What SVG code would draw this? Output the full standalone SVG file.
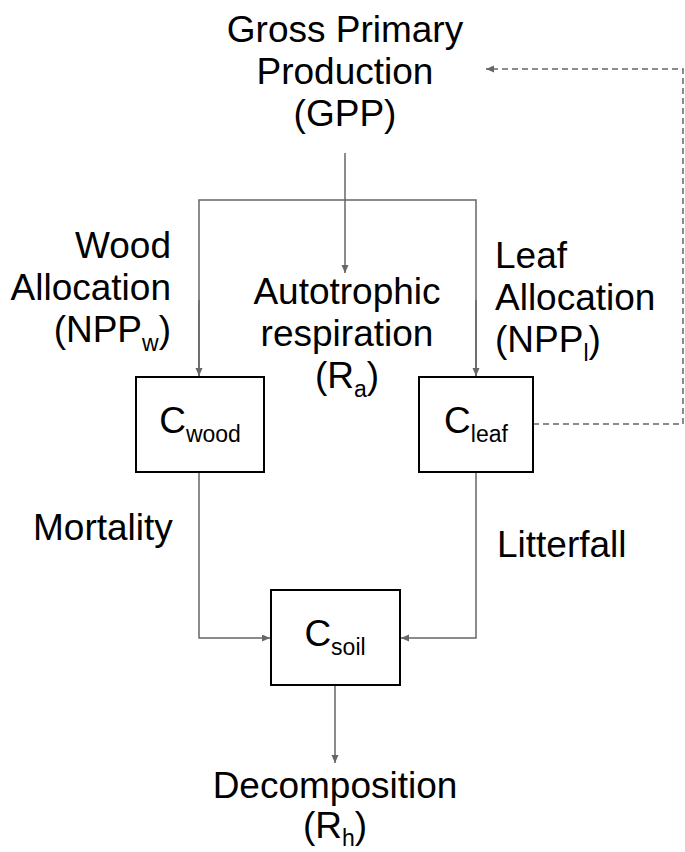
<svg xmlns="http://www.w3.org/2000/svg" width="685" height="852" viewBox="0 0 685 852">
<style>
text{font-family:"Liberation Sans",Arial,sans-serif;font-size:37px;fill:#000}
.sub{font-size:23px}
.box{fill:#fff;stroke:#000;stroke-width:2}
.c{fill:none;stroke:#666;stroke-width:1.5}
.d{fill:none;stroke:#666;stroke-width:1.5;stroke-dasharray:6 4}
</style>
<defs>
<marker id="ah" markerUnits="userSpaceOnUse" markerWidth="9" markerHeight="8" refX="8" refY="3.5" orient="auto">
<path d="M0,0 L8,3.5 L0,7 z" fill="#666"/>
</marker>
</defs>
<g id="connectors">
<path class="c" d="M345,153 V273" marker-end="url(#ah)"/>
<path class="c" d="M199,376 V200 H476 V376" />
<path class="c" d="M199,300 V376" marker-end="url(#ah)"/>
<path class="c" d="M476,300 V376" marker-end="url(#ah)"/>
<path class="c" d="M199,472 V638 H270" marker-end="url(#ah)"/>
<path class="c" d="M476,472 V638 H401" marker-end="url(#ah)"/>
<path class="c" d="M335,685 V763" marker-end="url(#ah)"/>
<path class="d" d="M533,424 H683 V69 H486" marker-end="url(#ah)"/>
</g>
<g id="gpp">
<text x="345" text-anchor="middle"><tspan x="345" y="42">Gross Primary</tspan><tspan x="345" y="84">Production</tspan><tspan x="345" y="126">(GPP)</tspan></text>
</g>
<g id="ra">
<text x="347" text-anchor="middle"><tspan x="347" y="304">Autotrophic</tspan><tspan x="347" y="346">respiration</tspan></text>
<text x="347" y="388" text-anchor="middle">(R<tspan class="sub" dy="9">a</tspan><tspan dy="-9">)</tspan></text>
</g>
<g id="wood-alloc">
<text text-anchor="end"><tspan x="171" y="258">Wood</tspan><tspan x="171" y="300">Allocation</tspan></text>
<text x="171" y="342" text-anchor="end">(NPP<tspan class="sub" dy="9">w</tspan><tspan dy="-9">)</tspan></text>
</g>
<g id="leaf-alloc">
<text><tspan x="495" y="268">Leaf</tspan><tspan x="495" y="310">Allocation</tspan></text>
<text x="495" y="352">(NPP<tspan class="sub" dy="9">l</tspan><tspan dy="-9">)</tspan></text>
</g>
<g id="cwood">
<rect class="box" x="136" y="377" width="128" height="95"/>
<text x="200" y="433" text-anchor="middle">C<tspan class="sub" dy="9">wood</tspan></text>
</g>
<g id="cleaf">
<rect class="box" x="419" y="377" width="114" height="95"/>
<text x="476" y="433" text-anchor="middle">C<tspan class="sub" dy="9">leaf</tspan></text>
</g>
<g id="csoil">
<rect class="box" x="271" y="590" width="129" height="95"/>
<text x="335" y="646" text-anchor="middle">C<tspan class="sub" dy="9">soil</tspan></text>
</g>
<g id="mortality"><text x="33" y="540">Mortality</text></g>
<g id="litterfall"><text x="497" y="557">Litterfall</text></g>
<g id="decomp">
<text x="335" y="798" text-anchor="middle">Decomposition</text>
<text x="335" y="838" text-anchor="middle">(R<tspan class="sub" dy="8">h</tspan><tspan dy="-8">)</tspan></text>
</g>
</svg>
